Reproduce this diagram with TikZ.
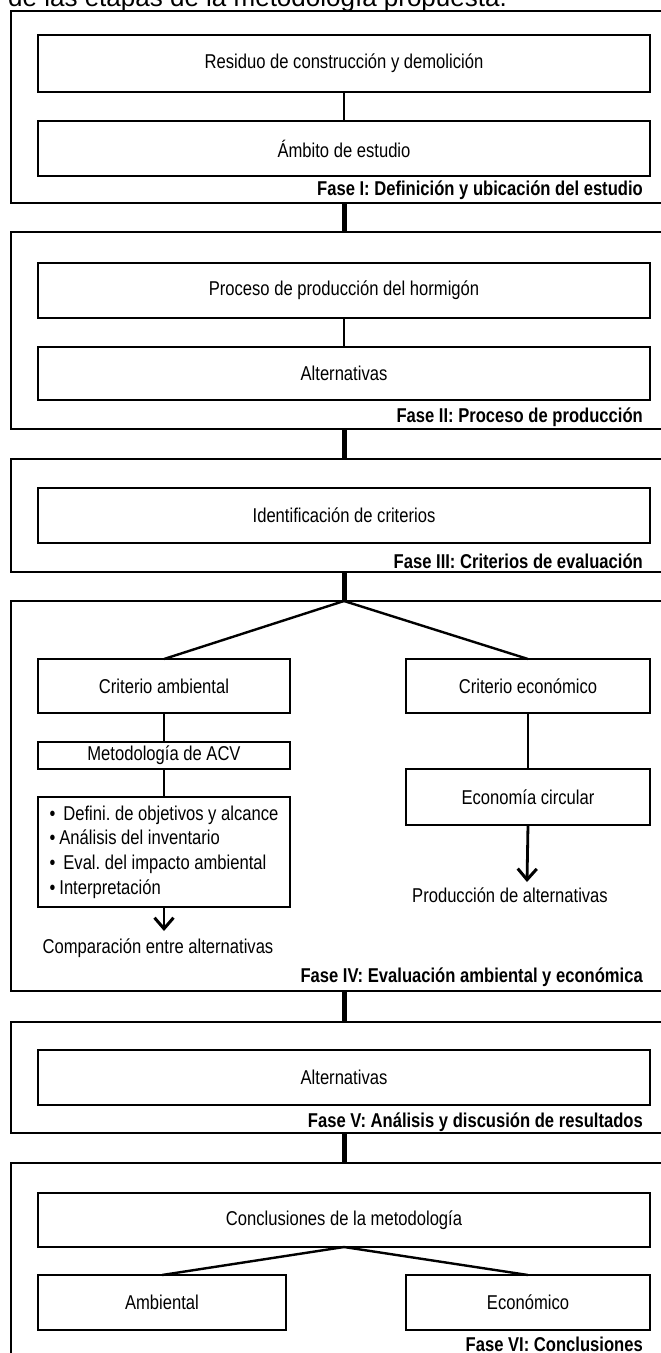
\documentclass[tikz,border=0pt]{standalone}
\usepackage{fontspec}
\setmainfont{Liberation Sans}[FakeStretch=0.83]
\newfontfamily\capfont{Liberation Sans}
\usetikzlibrary{arrows.meta}
\frenchspacing

% box given by its corners: name, x1, y1, x2, y2, text
\newcommand\mkbox[6]{\node[box, minimum width={#4-#2}, minimum height={#5-#3}] (#1) at ({(#2+#4)/2},{(#3+#5)/2}) {#6};}
% phase frame given by its corners
\newcommand\mkframe[5]{\node[phaseframe, minimum width={#4-#2}, minimum height={#5-#3}] (#1) at ({(#2+#4)/2},{(#3+#5)/2}) {};}

\begin{document}
\begin{tikzpicture}[x=1pt,y=-1pt,
  phaseframe/.style={draw, line width=2.5pt, rectangle, inner sep=0pt, outer sep=0pt},
  box/.style={draw, line width=1.6pt, rectangle, inner sep=0pt, outer sep=0pt,
    align=center, font=\fontsize{20}{23}\selectfont},
  phaselabel/.style={anchor=base east, inner sep=0pt, font=\bfseries\fontsize{20}{23}\selectfont},
  plain/.style={inner sep=0pt, font=\fontsize{20}{23}\selectfont},
  spine/.style={line width=5pt},
  link/.style={line width=2.4pt},
  flow/.style={line width=2.8pt, -{Straight Barb[length=11pt,width=19pt,line width=3pt]}}
]
\useasboundingbox (0,0) rectangle (661,1353);

% caption line cut by the top edge
\node[anchor=base west, inner sep=0pt, font=\capfont\fontsize{26}{30}\selectfont] (cap) at (8,6)
  {de las etapas de la metodología propuesta.};

% phase frames
\mkframe{p1}{11}{11}{700}{203}
\mkframe{p2}{11}{232}{700}{429}
\mkframe{p3}{11}{459}{700}{572}
\mkframe{p4}{11}{601}{700}{991}
\mkframe{p5}{11}{1022}{700}{1133}
\mkframe{p6}{11}{1163}{700}{1420}

% Phase I
\mkbox{b11}{38}{35}{650}{92}{Residuo de construcción y demolición}
\mkbox{b12}{38}{121}{650}{176}{Ámbito de estudio}
\node[phaselabel] (l1) at (643,195) {Fase I: Definición y ubicación del estudio};
\draw[link] (b11) -- (b12);

% Phase II
\mkbox{b21}{38}{263}{650}{318}{Proceso de producción del hormigón}
\mkbox{b22}{38}{347}{650}{400}{Alternativas}
\node[phaselabel] (l2) at (643,422) {Fase II: Proceso de producción};
\draw[link] (b21) -- (b22);

% Phase III
\mkbox{b31}{38}{488}{650}{543}{Identificación de criterios}
\node[phaselabel] (l3) at (643,568) {Fase III: Criterios de evaluación};

% Phase IV
\mkbox{ca}{38}{659}{290}{713}{Criterio ambiental}
\mkbox{ce}{406}{659}{650}{713}{Criterio económico}
\mkbox{acv}{38}{742}{290}{769}{Metodología de ACV}
\mkbox{ec}{406}{769}{650}{825}{Economía circular}
\node[box, minimum width=252, minimum height=110, align=left,
  font=\fontsize{20}{24.6}\selectfont] (lst) at (164,852)
  {•\hspace{0.4em}Defini. de objetivos y alcance\\
   •\hspace{0.2em}Análisis del inventario\\
   •\hspace{0.4em}Eval. del impacto ambiental\\
   •\hspace{0.2em}Interpretación};
\node[plain] (cmp) at (158,948) {Comparación entre alternativas};
\node[plain] (prd) at (510,895) {Producción de alternativas};
\node[phaselabel] (l4) at (643,982) {Fase IV: Evaluación ambiental y económica};
\coordinate (fork4) at (b31.center |- p4.north);
\draw[link] (fork4) -- (ca.north);
\draw[link] (fork4) -- (ce.north);
\draw[link] (ca) -- (acv);
\draw[link] (acv) -- (lst);
\draw[link] (ce) -- (ec);
\coordinate (lend) at (164,931);
\coordinate (rend) at (527,882);
\draw[flow] (lst.south) -- (lend);
\draw[flow] (ec.south) -- (rend);

% Phase V
\mkbox{b51}{38}{1050}{650}{1105}{Alternativas}
\node[phaselabel] (l5) at (643,1127) {Fase V: Análisis y discusión de resultados};

% Phase VI
\mkbox{b61}{38}{1193}{650}{1247}{Conclusiones de la metodología}
\mkbox{amb}{38}{1275}{286}{1330}{Ambiental}
\mkbox{eco}{406}{1275}{650}{1330}{Económico}
\node[phaselabel] (l6) at (643,1351) {Fase VI: Conclusiones};
\draw[link] (b61.south) -- (amb.north);
\draw[link] (b61.south) -- (eco.north);

% links between phases
\draw[spine] (b11.center |- p1.south) -- (b11.center |- p2.north);
\draw[spine] (b11.center |- p2.south) -- (b11.center |- p3.north);
\draw[spine] (b11.center |- p3.south) -- (b11.center |- p4.north);
\draw[spine] (b11.center |- p4.south) -- (b11.center |- p5.north);
\draw[spine] (b11.center |- p5.south) -- (b11.center |- p6.north);
\end{tikzpicture}
\end{document}
